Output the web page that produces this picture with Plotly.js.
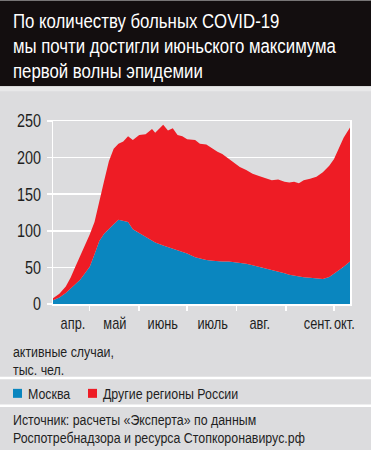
<!DOCTYPE html>
<html>
<head>
<meta charset="utf-8">
<script src="https://cdn.plot.ly/plotly-3.0.1.min.js"></script>
<style>
html,body{margin:0;padding:0;background:#dcdcde;}
#chart{width:371px;height:450px;}
</style>
</head>
<body>
<div id="chart"></div>
<script>
// ---- data (thousand active cases) ----
const dates = ['2020-04-08','2020-04-12','2020-04-16','2020-04-19','2020-04-22','2020-04-25','2020-04-28',
  '2020-05-01','2020-05-04','2020-05-07','2020-05-10','2020-05-13','2020-05-16','2020-05-19','2020-05-22',
  '2020-05-25','2020-05-28','2020-06-01','2020-06-05','2020-06-09','2020-06-11','2020-06-16','2020-06-19',
  '2020-06-22','2020-06-25','2020-06-28','2020-07-01','2020-07-06','2020-07-09','2020-07-13','2020-07-17',
  '2020-07-20','2020-07-23','2020-07-27','2020-07-31','2020-08-03','2020-08-07','2020-08-11','2020-08-15',
  '2020-08-19','2020-08-23','2020-08-27','2020-08-31','2020-09-03','2020-09-06','2020-09-09','2020-09-12',
  '2020-09-16','2020-09-20','2020-09-24','2020-09-28','2020-10-01','2020-10-04','2020-10-07','2020-10-11'];
const moscow = [5,9,15,21,27,33,42,
  51,68,86,96,103,109,115,113,
  112,102,97,92,86,84,80,78,
  75,73,71,69,64,62,60,59,
  58,58,58,57,56,55,53,51,
  49,47,44,42,40,39,37,36.5,
  36,35,34,37,41,46,51,58];
const others = [3,5,9,15,24,32,38,
  44,44,52,72,92,103,104,109,
  117,122,134,140,153,150,165,159,
  165,158,158,156,160,157,158,153,
  150,147,140,135,131,128,125,124,
  123,122,126,125,126,128,128,132.5,
  135,139,146,152,157,166,176,183];
const seriesNames = ['Москва','Другие регионы России'];
const seriesColors = ['#0a86bf','#ee1c25'];
const yTicks = [0,50,100,150,200,250];
const monthStarts = ['2020-05-01','2020-06-01','2020-07-01','2020-08-01','2020-09-01','2020-10-01'];
const monthLabelDates = ['2020-04-20 12:00','2020-05-16 18:00','2020-06-15 18:00','2020-07-17','2020-08-15 10:00','2020-09-21','2020-10-07 12:00'];
const monthLabels = ['апр.','май','июнь','июль','авг.','сент.','окт.'];
const titleLines = ['По количеству больных COVID-19','мы почти достигли июньского максимума','первой волны эпидемии'];
const unitLines = ['активные случаи,','тыс. чел.'];
const sourceLines = ['Источник: расчеты «Эксперта» по данным','Роспотребнадзора и ресурса Стопкоронавирус.рф'];

// ---- geometry helpers (pixel -> paper) ----
const L=53, R=350, T=120.7, B=304;
const px = x => (x-L)/(R-L);
const py = y => (B-y)/(B-T);
const FONT = '"Liberation Sans","Arial",sans-serif';
const TXT = '#1f1f1f';

const traces = [
  {x:dates, y:moscow, name:seriesNames[0], type:'scatter', mode:'lines', stackgroup:'a',
   line:{width:0, color:seriesColors[0]}, fillcolor:seriesColors[0], hoverinfo:'skip'},
  {x:dates, y:others, name:seriesNames[1], type:'scatter', mode:'lines', stackgroup:'a',
   line:{width:0, color:seriesColors[1]}, fillcolor:seriesColors[1], hoverinfo:'skip'}
];

const shapes = [
  {type:'rect', xref:'paper', yref:'paper', x0:px(0), x1:px(371), y0:py(0), y1:py(86), fillcolor:'#130e0f', line:{width:0}},
  {type:'rect', xref:'paper', yref:'paper', x0:px(0), x1:px(371), y0:py(86), y1:py(91), fillcolor:'#e8e8e9', line:{width:0}},
  {type:'line', xref:'paper', yref:'paper', x0:px(0), x1:px(371), y0:py(378), y1:py(378), line:{color:'#ffffff', width:2.5}},
  {type:'line', xref:'paper', yref:'paper', x0:px(0), x1:px(371), y0:py(406), y1:py(406), line:{color:'#ffffff', width:2.5}},
  {type:'rect', xref:'paper', yref:'paper', x0:px(13), x1:px(22), y0:py(389), y1:py(398), fillcolor:seriesColors[0], line:{width:0}},
  {type:'rect', xref:'paper', yref:'paper', x0:px(88), x1:px(97), y0:py(389), y1:py(398), fillcolor:seriesColors[1], line:{width:0}}
];

const ann = [];
function addText(text, x, y, size, color){
  ann.push({text:text, xref:'paper', yref:'paper', x:px(x), y:py(y), xanchor:'left', yanchor:'middle', align:'left',
    showarrow:false, font:{family:FONT, size:size, color:color}});
}
titleLines.forEach((t,i)=>addText(t, 11, 20+25*i, 21, '#ffffff'));
unitLines.forEach((t,i)=>addText(t, 11, 352+18*i, 15.5, TXT));
addText(seriesNames[0], 26, 394, 15.5, TXT);
addText(seriesNames[1], 101, 394, 15.5, TXT);
sourceLines.forEach((t,i)=>addText(t, 11, 420+18*i, 15.5, TXT));

const layout = {
  width:371, height:450,
  margin:{l:L, r:371-R, t:T, b:450-B, pad:0},
  paper_bgcolor:'#dcdcde', plot_bgcolor:'#dcdcde',
  showlegend:false,
  xaxis:{type:'date', range:['2020-04-08','2020-10-11'], tickmode:'array', tickvals:monthLabelDates, ticktext:monthLabels,
    ticks:'', tickangle:0, showgrid:false, zeroline:false, showline:true, linecolor:'#ffffff', linewidth:1.5, mirror:true,
    tickfont:{family:FONT, size:16, color:TXT}, ticklabelstandoff:4,
    minor:{tickmode:'array', tickvals:monthStarts, ticks:'outside', ticklen:5, tickwidth:1.5, tickcolor:'#ffffff', showgrid:false},
    fixedrange:true},
  yaxis:{range:[0,250], tickmode:'array', tickvals:yTicks, ticks:'outside', ticklen:5, tickwidth:1.5, tickcolor:'#ffffff',
    showgrid:true, gridcolor:'#ffffff', gridwidth:1.5, zeroline:false, showline:true, linecolor:'#ffffff', linewidth:1.5, mirror:true,
    tickfont:{family:FONT, size:18, color:TXT}, ticklabelstandoff:2, fixedrange:true},
  shapes:shapes,
  annotations:ann
};

Plotly.newPlot('chart', traces, layout, {displayModeBar:false, staticPlot:true}).then(gd => {
  // condense text horizontally about its anchor (reference uses a condensed typeface)
  const K = 0.8;
  gd.querySelectorAll('svg text').forEach(t => {
    if (!t.textContent) return;
    const ax = parseFloat(t.getAttribute('x')) || 0;
    const prev = t.getAttribute('transform') || '';
    t.setAttribute('transform', (prev + ' translate(' + ax + ',0) scale(' + K + ',1) translate(' + (-ax) + ',0)').trim());
  });
});
</script>
</body>
</html>
